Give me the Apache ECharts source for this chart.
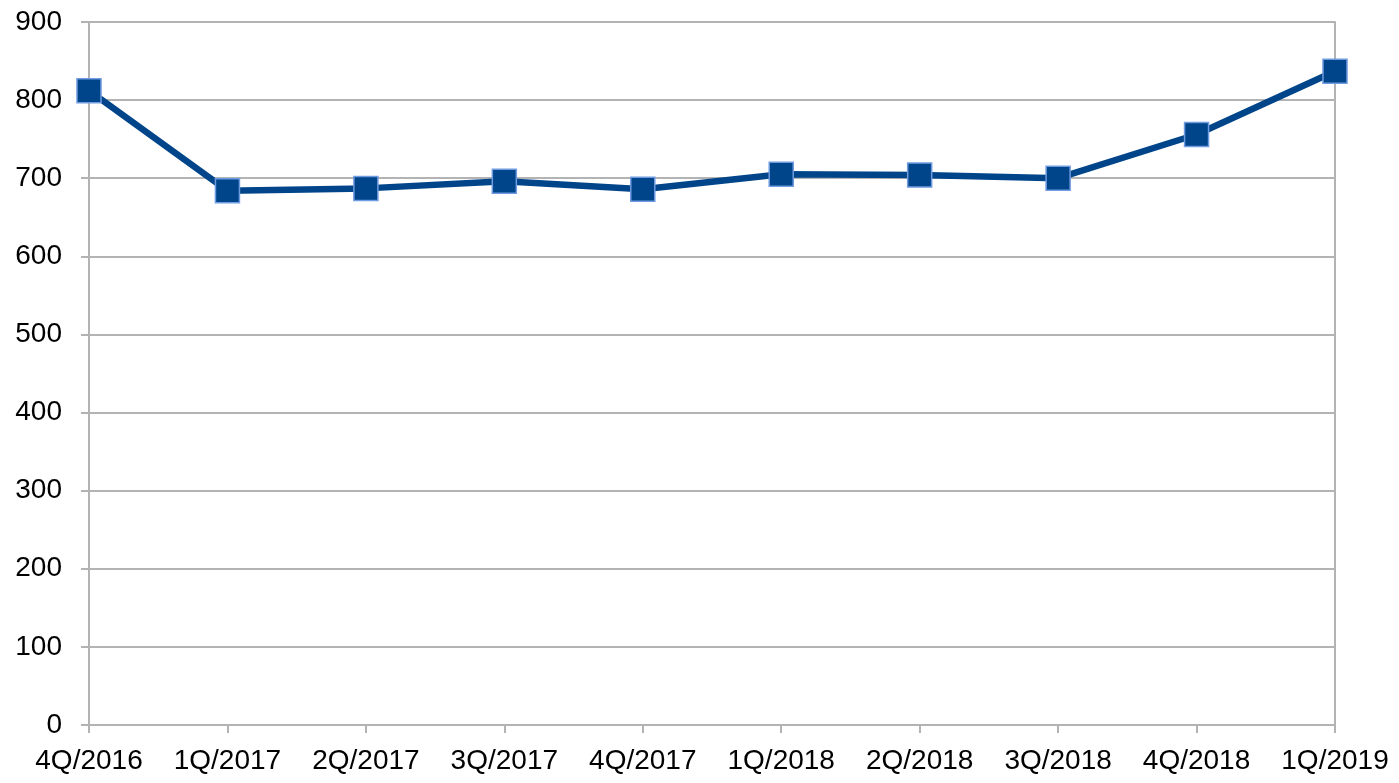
<!DOCTYPE html>
<html>
<head>
<meta charset="utf-8">
<script src="https://cdn.jsdelivr.net/npm/echarts@6/dist/echarts.min.js"></script>
<style>
html,body{margin:0;padding:0;background:#fff;}
#chart{width:1399px;height:783px;}
</style>
</head>
<body>
<div id="chart"></div>
<script>
const categories = ['4Q/2016','1Q/2017','2Q/2017','3Q/2017','4Q/2017','1Q/2018','2Q/2018','3Q/2018','4Q/2018','1Q/2019'];
const values = [812, 684, 687, 696, 686, 705, 704, 700, 756, 837];
const yTicks = { min: 0, max: 900, interval: 100 };

const chart = echarts.init(document.getElementById('chart'));
const gridColor = '#b3b3b3';
const font = 'Liberation Sans, Arial, sans-serif';
chart.setOption({
  animation: false,
  backgroundColor: '#ffffff',
  grid: { left: 89, right: 64, top: 22, bottom: 58, containLabel: false },
  xAxis: {
    type: 'category',
    data: categories,
    boundaryGap: false,
    axisLine: { lineStyle: { color: gridColor, width: 2 } },
    axisTick: { show: true, length: 8, lineStyle: { color: gridColor, width: 2 } },
    axisLabel: { color: '#000', fontSize: 28, fontFamily: font, margin: 22, interval: 0 },
    splitLine: { show: false }
  },
  yAxis: [{
    type: 'value',
    min: yTicks.min, max: yTicks.max, interval: yTicks.interval,
    axisLine: { show: true, lineStyle: { color: gridColor, width: 2 } },
    axisTick: { show: true, length: 8, lineStyle: { color: gridColor, width: 2 } },
    axisLabel: { color: '#000', fontSize: 28, fontFamily: font, margin: 27 },
    splitLine: { show: true, lineStyle: { color: gridColor, width: 2 } }
  }, {
    type: 'value',
    position: 'right',
    min: yTicks.min, max: yTicks.max, interval: yTicks.interval,
    axisLine: { show: true, lineStyle: { color: gridColor, width: 2 } },
    axisTick: { show: false },
    axisLabel: { show: false },
    splitLine: { show: false }
  }],
  series: [{
    type: 'line',
    data: values,
    yAxisIndex: 0,
    symbol: 'rect',
    symbolSize: 24,
    lineStyle: { color: '#00458a', width: 6.5 },
    itemStyle: { color: '#00458a', borderColor: '#6f9be0', borderWidth: 1.5 },
    z: 5
  }]
});
</script>
</body>
</html>
